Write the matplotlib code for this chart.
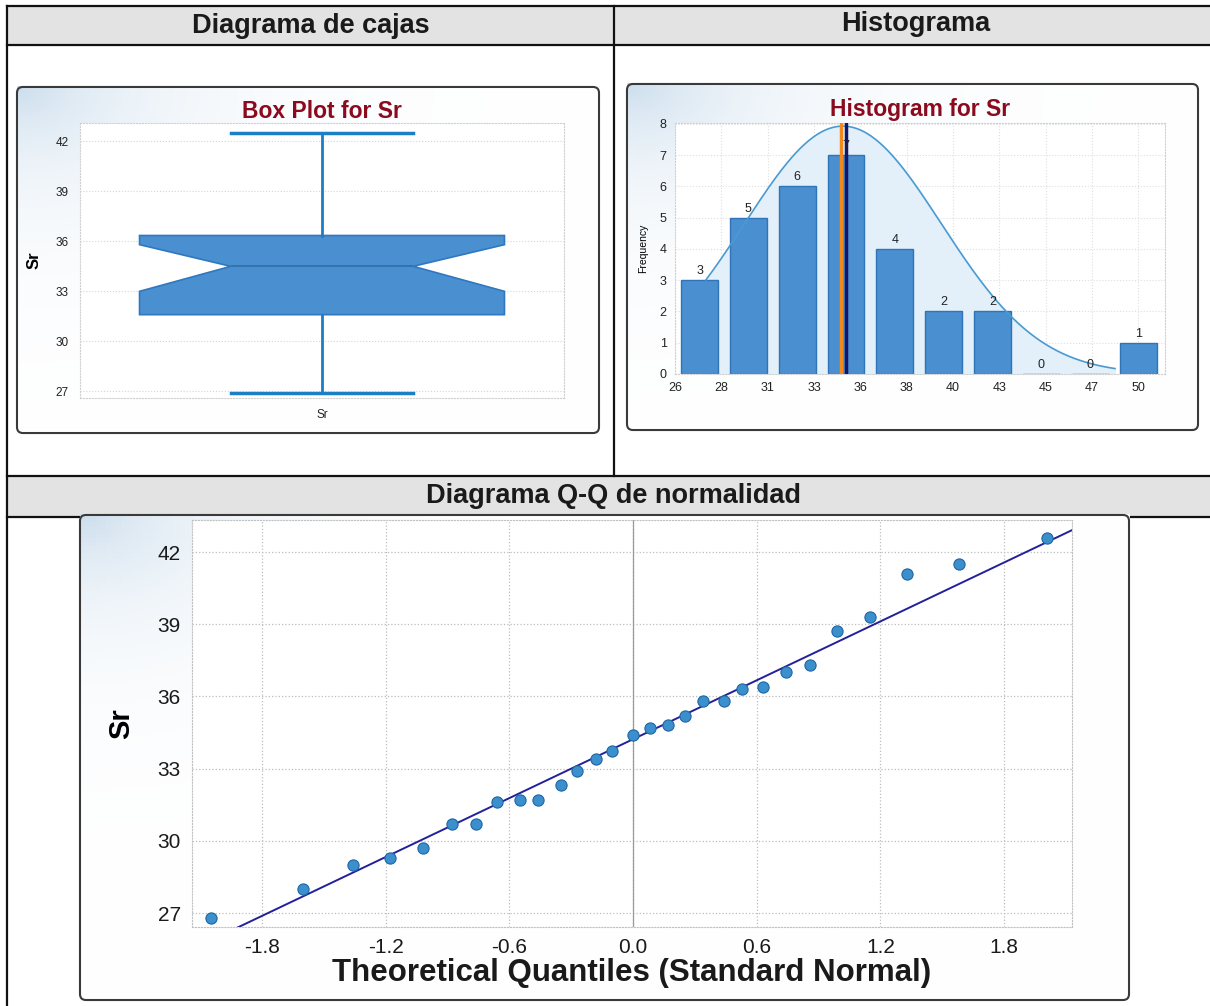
import numpy as np
import matplotlib
matplotlib.use("Agg")
import matplotlib.pyplot as plt
from matplotlib.patches import Rectangle, FancyBboxPatch

plt.rcParams['font.family'] = ['Liberation Sans', 'DejaVu Sans']

# ---- data ----
# box plot summary for Sr
box_stats = dict(med=34.5, q1=31.6, q3=36.35, whislo=26.9, whishi=42.5,
                 cilo=33.0, cihi=35.8, fliers=[], label='Sr')

# histogram for Sr
hist_counts = [3, 5, 6, 7, 4, 2, 2, 0, 0, 1]
hist_start = 26.0
hist_width = 2.4
hist_tick_labels = ['26', '28', '31', '33', '36', '38', '40', '43', '45', '47', '50']
bar_first = 27.27
bar_step = 2.53
median_sr = 34.6
mean_sr = 34.85
curve_mu = 34.7
curve_sd = 5.1
curve_peak = 7.93
curve_from, curve_to = 27.6, 48.8

# normal Q-Q plot
theo_q = [-2.05, -1.60, -1.36, -1.18, -1.02, -0.88, -0.76, -0.66, -0.55, -0.46,
          -0.35, -0.27, -0.18, -0.10, 0.00, 0.08, 0.17, 0.25, 0.34, 0.44,
          0.53, 0.63, 0.74, 0.86, 0.99, 1.15, 1.33, 1.58, 2.01]
sample_q = [26.8, 28.0, 29.0, 29.3, 29.7, 30.7, 30.7, 31.6, 31.7, 31.7,
            32.3, 32.9, 33.4, 33.75, 34.4, 34.7, 34.8, 35.2, 35.8, 35.8,
            36.3, 36.4, 37.0, 37.3, 38.7, 39.3, 41.1, 41.5, 42.6]
qq_xticks = [-1.8, -1.2, -0.6, 0.0, 0.6, 1.2, 1.8]
qq_yticks = [27, 30, 33, 36, 39, 42]

W, H = 1210, 1006
fig = plt.figure(figsize=(W / 100, H / 100), dpi=100)


def px_axes(x0, y0, x1, y1, **kw):
    return fig.add_axes([x0 / W, 1 - y1 / H, (x1 - x0) / W, (y1 - y0) / H], **kw)


# background: table frame and headers
bg = px_axes(0, 0, W, H)
bg.set_xlim(0, W)
bg.set_ylim(H, 0)
bg.axis('off')
for (x, y, w, h) in [(7, 6, 1203, 39), (7, 477, 1203, 40)]:
    bg.add_patch(Rectangle((x, y), w, h, fc='#e3e3e3', ec='none'))
for y in [6, 45, 476, 517]:
    bg.plot([7, W], [y, y], color='#111111', lw=1.6)
bg.plot([7, 7], [6, H], color='#111111', lw=1.6)
bg.plot([614, 614], [6, 476], color='#111111', lw=1.6)
hdr = dict(ha='center', va='center', fontsize=19.5, fontweight='bold', color='#1a1a1a')
bg.text(311, 26, 'Diagrama de cajas', **hdr)
bg.text(916, 24, 'Histograma', **hdr)
bg.text(613, 496, 'Diagrama Q-Q de normalidad', **hdr)


def panel(x0, y0, x1, y1):
    # light bluish shade in the top-left corner, rounded frame
    gx = np.linspace(0, 1, 200)
    gy = np.linspace(0, 1, 120)
    X, Y = np.meshgrid(gx, gy)
    shade = np.exp(-np.hypot(X * (x1 - x0) / 120, Y * (y1 - y0) / 80))
    img = np.ones((120, 200, 3))
    tint = np.array([0.80, 0.87, 0.93])
    img = img - shade[..., None] * (1 - tint)
    pa = px_axes(x0, y0, x1, y1)
    pa.imshow(img, extent=(x0, x1, y1, y0), aspect='auto')
    pa.set_xlim(x0 - 2, x1 + 2)
    pa.set_ylim(y1 + 2, y0 - 2)
    pa.axis('off')
    pa.add_patch(FancyBboxPatch((x0, y0), x1 - x0, y1 - y0,
                                boxstyle='round,pad=0,rounding_size=6',
                                fc='none', ec='#3a3a3a', lw=1.5))


panel(15, 85, 601, 435)
panel(625, 82, 1200, 432)
panel(78, 513, 1131, 1002)

# ---- box plot ----
ax1 = px_axes(80, 123, 564, 398)
ax1.set_facecolor('white')
ax1.bxp([box_stats], positions=[1], widths=0.754, capwidths=0.374, shownotches=True,
        patch_artist=True, showfliers=False,
        boxprops=dict(facecolor='#4a90d0', edgecolor='#2e78bf', lw=1.2),
        medianprops=dict(color='#2f6ea8', lw=1.2),
        whiskerprops=dict(color='#1a7fc4', lw=2),
        capprops=dict(color='#1a7fc4', lw=2.5))
ax1.set_xlim(0.5, 1.5)
ax1.set_ylim(26.6, 43.1)
ax1.set_yticks([27, 30, 33, 36, 39, 42])
ax1.tick_params(length=0, labelsize=8.5, colors='#222222', pad=8)
ax1.grid(axis='y', color='#d5d5d5', ls=':', lw=0.8)
ax1.set_axisbelow(True)
for s in ax1.spines.values():
    s.set_color('#d0d0d0')
    s.set_linestyle(':')
ax1.set_ylabel('Sr', fontsize=12, fontweight='bold', labelpad=10)
ax1.set_title('Box Plot for Sr', fontsize=16.5, fontweight='bold', color='#8b0a1e', pad=3)

# ---- histogram ----
ax2 = px_axes(675, 123, 1165, 374)
ax2.set_facecolor('white')
edges = hist_start + hist_width * np.arange(len(hist_counts) + 1)
centers = bar_first + bar_step * np.arange(len(hist_counts))
xc = np.linspace(curve_from, curve_to, 300)
yc = curve_peak * np.exp(-0.5 * ((xc - curve_mu) / curve_sd) ** 2)
ax2.fill_between(xc, 0, yc, color='#e3f0fa', zorder=1)
ax2.bar(centers, hist_counts, width=1.91, color='#4a90d0',
        edgecolor='#2f74b8', lw=1, zorder=2)
ax2.plot(xc, yc, color='#4a9ad2', lw=1.2, zorder=3)
ax2.axvline(median_sr, color='#f28a1e', lw=2.5, zorder=4)
ax2.axvline(mean_sr, color='#141466', lw=2.5, zorder=4)
for c, n in zip(centers, hist_counts):
    ax2.text(c, n + 0.1, str(n), ha='center', va='bottom', fontsize=9, color='#222222', zorder=5)
ax2.set_xticks(edges)
ax2.set_xticklabels(hist_tick_labels)
ax2.set_xlim(edges[0], hist_start + hist_width * 10.58)
ax2.set_ylim(0, 8.03)
ax2.set_yticks(range(0, 9))
ax2.tick_params(length=0, labelsize=9, colors='#222222', pad=6)
ax2.grid(color='#dedede', ls=':', lw=0.8)
ax2.set_axisbelow(True)
for s in ax2.spines.values():
    s.set_color('#d0d0d0')
    s.set_linestyle(':')
ax2.set_ylabel('Frequency', fontsize=7.5, labelpad=8)
ax2.set_title('Histogram for Sr', fontsize=16.5, fontweight='bold', color='#8b0a1e', pad=5)

# ---- normal Q-Q plot ----
ax3 = px_axes(192, 520, 1072, 927)
ax3.set_facecolor('white')
mu = np.mean(sample_q)
sd = np.std(sample_q, ddof=1)
xl = np.array([-2.14, 2.13])
ax3.plot(xl, mu + sd * xl, color='#22209a', lw=1.4, zorder=3)
ax3.scatter(theo_q, sample_q, s=65, color='#3a8fcc', edgecolor='#1f67a3', lw=0.8, zorder=4)
ax3.set_xlim(-2.14, 2.13)
ax3.set_ylim(26.42, 43.33)
ax3.set_xticks(qq_xticks)
ax3.set_xticklabels(['%.1f' % v for v in qq_xticks])
ax3.set_yticks(qq_yticks)
ax3.tick_params(length=0, labelsize=15, colors='#1a1a1a', pad=8)
ax3.grid(color='#bdbdbd', ls=':', lw=0.9)
ax3.axvline(0, color='#9a9a9a', lw=0.9, zorder=1)
ax3.set_axisbelow(True)
for s in ax3.spines.values():
    s.set_color('#c0c0c0')
    s.set_linestyle(':')
ax3.set_ylabel('Sr', fontsize=21, fontweight='bold', labelpad=16)
ax3.set_xlabel('Theoretical Quantiles (Standard Normal)', fontsize=22.5,
               fontweight='bold', color='#1a1a1a', labelpad=1)

fig.savefig('out.png', dpi=100)
